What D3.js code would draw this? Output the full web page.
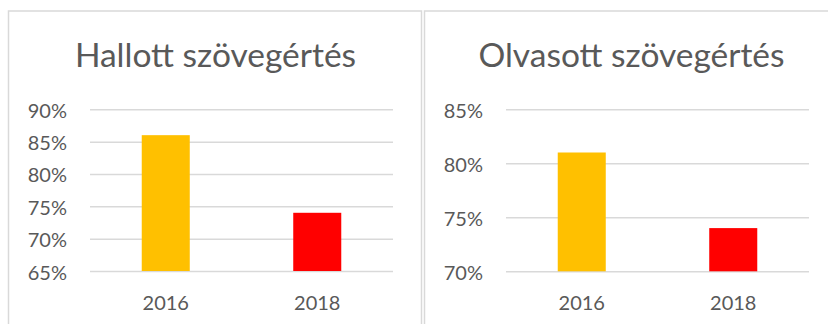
<!DOCTYPE html>
<html>
<head>
<meta charset="utf-8">
<script src="https://cdn.jsdelivr.net/npm/d3@7"></script>
<style>
  html, body { margin: 0; padding: 0; background: #fff; }
  svg { display: block; }
  text { font-family: Lato, "Open Sans", sans-serif; fill: #595959; }
</style>
</head>
<body>
<svg id="chart" width="828" height="324"></svg>
<script>
// Data
const categories = ["2016", "2018"];
const barColors = ["#FFC000", "#FF0000"];

const titleHeard = "Hallott szövegértés";
const valuesHeard = [0.86, 0.74];
const ticksHeard = [0.65, 0.70, 0.75, 0.80, 0.85, 0.90];

const titleRead = "Olvasott szövegértés";
const valuesRead = [0.81, 0.74];
const ticksRead = [0.70, 0.75, 0.80, 0.85];

const svg = d3.select("#chart");
const fmt = d3.format(".0%");

// Panel layout (frame, plot area, title)
const panels = [
  { title: titleHeard, values: valuesHeard, ticks: ticksHeard,
    frame: { x0: 8.5, x1: 421.5 }, plot: { x0: 90, x1: 393, top: 109.3, bottom: 271 }, titleX: 215.5 },
  { title: titleRead, values: valuesRead, ticks: ticksRead,
    frame: { x0: 424.5, x1: 840 }, plot: { x0: 506, x1: 809, top: 109.3, bottom: 271.3 }, titleX: 631.5 }
];

panels.forEach(p => {
  const g = svg.append("g");

  // chart frame
  g.append("rect")
    .attr("x", p.frame.x0).attr("y", 11)
    .attr("width", p.frame.x1 - p.frame.x0).attr("height", 340)
    .attr("fill", "#fff").attr("stroke", "#d9d9d9").attr("stroke-width", 1.5);

  // title
  g.append("text")
    .attr("x", p.titleX).attr("y", 66.5)
    .attr("text-anchor", "middle")
    .style("font-size", "33.5px")
    .text(p.title);

  const y = d3.scaleLinear()
    .domain(d3.extent(p.ticks))
    .range([p.plot.bottom, p.plot.top]);

  const x = d3.scaleBand()
    .domain(categories)
    .range([p.plot.x0, p.plot.x1])
    .paddingInner(0.683)
    .paddingOuter(0.3415);

  // value axis with gridlines
  const yAxis = d3.axisLeft(y)
    .tickValues(p.ticks)
    .tickFormat(fmt)
    .tickSize(-(p.plot.x1 - p.plot.x0))
    .tickPadding(23);

  const ya = g.append("g")
    .attr("transform", `translate(${p.plot.x0},0)`)
    .call(yAxis);
  ya.select(".domain").remove();
  ya.selectAll(".tick line").attr("stroke", "#d9d9d9").attr("stroke-width", 1.5);
  ya.selectAll(".tick text")
    .attr("dy", "0.4em")
    .style("font-size", "20px")
    .style("font-family", "Lato, 'Open Sans', sans-serif")
    .attr("fill", "#595959");

  // bars
  g.selectAll("rect.bar")
    .data(categories)
    .join("rect")
    .attr("class", "bar")
    .attr("x", d => x(d))
    .attr("width", x.bandwidth())
    .attr("y", (d, i) => y(p.values[i]))
    .attr("height", (d, i) => y(y.domain()[0]) - y(p.values[i]))
    .attr("fill", (d, i) => barColors[i]);

  // category axis
  const xAxis = d3.axisBottom(x).tickSize(0).tickPadding(0);
  const xa = g.append("g")
    .attr("transform", `translate(0,${p.plot.bottom})`)
    .call(xAxis);
  xa.select(".domain").remove();
  xa.selectAll(".tick text")
    .attr("y", 39)
    .attr("dy", 0)
    .style("font-size", "20px")
    .style("font-family", "Lato, 'Open Sans', sans-serif")
    .attr("fill", "#595959");
});
</script>
</body>
</html>
